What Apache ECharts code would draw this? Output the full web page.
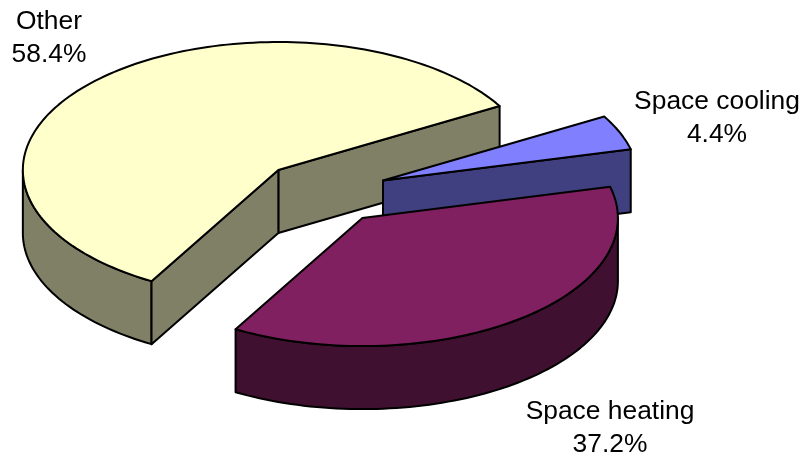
<!DOCTYPE html>
<html>
<head>
<meta charset="utf-8">
<style>html,body{margin:0;padding:0;background:#fff}#chart{width:804px;height:457px}</style>
<script src="https://cdn.jsdelivr.net/npm/echarts@6/dist/echarts.min.js"></script>
</head>
<body>
<div id="chart"></div>
<script>
// Energy use shares, listed clockwise from the first slice angle
const categories = ['Space cooling', 'Space heating', 'Other'];
const shares = [4.4, 37.2, 58.4];

// Slice fills: top face and side walls
const topColors = ['#8080FF', '#802060', '#FFFFCC'];
const sideColors = ['#404080', '#401030', '#808066'];

// Paint order, back to front
const paintRanks = [1, 2, 0];

// Label anchors (centre of the text block)
const labelCentres = [[717, 118], [610, 428], [49, 38]];

// Pie projection
const pieCentre = [323.7, 192.6];
const radiusX = 255.5;
const radiusY = 128;
const wallDepth = 63;
const explode = 64;
const firstAngle = 30; // degrees counter-clockwise from east; slices run clockwise

const total = shares.reduce((a, b) => a + b, 0);
const rad = d => d * Math.PI / 180;

function arcPoints(cx, cy, from, to) {
  const n = Math.max(2, Math.ceil(Math.abs(to - from) / 1.5));
  const pts = [];
  for (let i = 0; i <= n; i++) {
    const t = rad(from + (to - from) * i / n);
    pts.push([cx + radiusX * Math.cos(t), cy - radiusY * Math.sin(t)]);
  }
  return pts;
}

function face(points, fill, z2) {
  return {
    type: 'polygon',
    z2: z2,
    shape: { points: points },
    style: { fill: fill, stroke: '#000', lineWidth: 2, lineJoin: 'round' }
  };
}

function renderSlice(params, api) {
  const i = params.dataIndex;
  const before = shares.slice(0, i).reduce((a, b) => a + b, 0);
  const value = api.value(0);
  const end = firstAngle - before / total * 360;
  const start = end - value / total * 360;
  const mid = (start + end) / 2;
  const cx = pieCentre[0] + explode * Math.cos(rad(mid));
  const cy = pieCentre[1] - explode * 0.5 * Math.sin(rad(mid));
  const from = ((start % 360) + 360) % 360;
  const to = from + (end - start);
  const rank = paintRanks[i] * 10;
  const children = [];

  // Curved outer wall: only the part on the near half of the ellipse shows
  [[180, 360], [540, 720]].forEach(function (band) {
    const a = Math.max(from, band[0]);
    const b = Math.min(to, band[1]);
    if (b > a) {
      const upper = arcPoints(cx, cy, a, b);
      const lower = arcPoints(cx, cy + wallDepth, a, b).reverse();
      children.push(face(upper.concat(lower), sideColors[i], rank));
    }
  });

  // Flat cut walls along the two radii, when they face the viewer
  function cutWall(angle) {
    const t = rad(angle);
    const x = cx + radiusX * Math.cos(t);
    const y = cy - radiusY * Math.sin(t);
    return face([[cx, cy], [x, y], [x, y + wallDepth], [cx, cy + wallDepth]], sideColors[i], rank + 1);
  }
  if (Math.cos(rad(from)) > 0) children.push(cutWall(from));
  if (Math.cos(rad(to)) < 0) children.push(cutWall(to));

  // Top face
  children.push(face([[cx, cy]].concat(arcPoints(cx, cy, from, to)), topColors[i], rank + 2));

  // Name and percentage
  children.push({
    type: 'text',
    z2: 100,
    style: {
      x: labelCentres[i][0],
      y: labelCentres[i][1],
      text: categories[i] + '\n' + value.toFixed(1) + '%',
      font: '26.4px "Liberation Sans", Arial, sans-serif',
      lineHeight: 33,
      fill: '#000',
      align: 'center',
      verticalAlign: 'middle'
    }
  });

  return { type: 'group', children: children };
}

const chart = echarts.init(document.getElementById('chart'), null, { renderer: 'canvas' });
chart.setOption({
  animation: false,
  backgroundColor: '#fff',
  series: [{
    type: 'custom',
    coordinateSystem: 'none',
    silent: true,
    renderItem: renderSlice,
    data: shares.map((v, i) => ({ name: categories[i], value: [v] }))
  }]
});
</script>
</body>
</html>
